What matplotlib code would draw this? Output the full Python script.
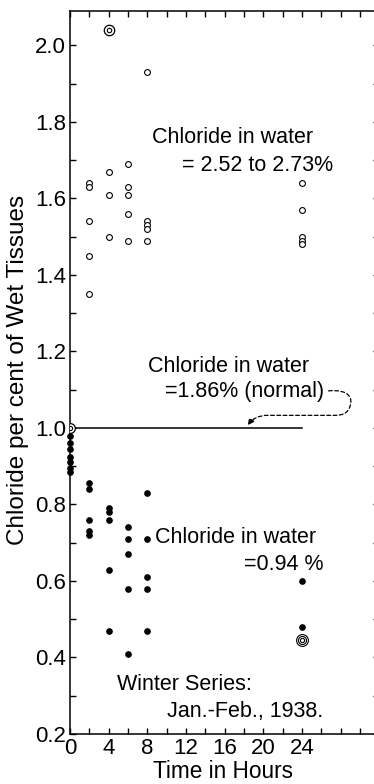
import matplotlib
matplotlib.use("Agg")
import matplotlib.pyplot as plt
from matplotlib.path import Path
from matplotlib.patches import FancyArrowPatch
from matplotlib.ticker import MultipleLocator, FixedLocator, FormatStrFormatter

# Water at 2.52-2.73 % chloride (open circles)
high_hours = [2, 2, 2, 2, 2,
              4, 4, 4,
              6, 6, 6, 6, 6,
              8, 8, 8, 8, 8,
              24, 24, 24, 24, 24]
high_chloride = [1.64, 1.63, 1.54, 1.45, 1.35,
                 1.67, 1.61, 1.50,
                 1.69, 1.63, 1.61, 1.56, 1.49,
                 1.93, 1.54, 1.53, 1.52, 1.49,
                 1.64, 1.57, 1.50, 1.49, 1.48]
high_double_hours = [4]
high_double_chloride = [2.04]

# Water at 0.94 % chloride (filled dots)
low_hours = [0, 0, 0, 0, 0, 0, 0,
             2, 2, 2, 2, 2,
             4, 4, 4, 4, 4,
             6, 6, 6, 6, 6,
             8, 8, 8, 8, 8,
             24, 24]
low_chloride = [0.98, 0.96, 0.945, 0.925, 0.91, 0.895, 0.885,
                0.855, 0.84, 0.76, 0.73, 0.72,
                0.79, 0.78, 0.76, 0.63, 0.47,
                0.74, 0.71, 0.67, 0.58, 0.41,
                0.83, 0.71, 0.61, 0.58, 0.47,
                0.60, 0.48]
low_triple_hours = [24]
low_triple_chloride = [0.445]

# Normal sea water (1.86 %)
normal_hours = [0, 24]
normal_chloride = [1.00, 1.00]

x_ticks = [0, 4, 8, 12, 16, 20, 24]
x_tick_labels = ["0", "4", "8", "12", "16", "20", "24"]

W, H = 374, 784
fig = plt.figure(figsize=(W / 100, H / 100), dpi=100)
ax = fig.add_axes([70 / W, 50 / H, 309.3 / W, 723 / H])
ax.set_xlim(0, 32)
ax.set_ylim(0.2, 2.09)

font = ["Liberation Sans", "DejaVu Sans"]

for s in ax.spines.values():
    s.set_linewidth(1.1)

ax.xaxis.set_major_locator(FixedLocator(x_ticks))
ax.set_xticklabels(x_tick_labels)
ax.xaxis.set_minor_locator(MultipleLocator(2))
ax.yaxis.set_major_locator(MultipleLocator(0.2))
ax.yaxis.set_minor_locator(MultipleLocator(0.1))
ax.yaxis.set_major_formatter(FormatStrFormatter("%.1f"))
ax.tick_params(which="both", direction="in", top=True, right=True,
               length=4.5, width=1.0, color="black")
ax.tick_params(which="major", labelsize=16, pad=3)
for lab in ax.get_xticklabels() + ax.get_yticklabels():
    lab.set_fontfamily(font)

# normal-water reference line
ax.plot(normal_hours, normal_chloride, color="black", lw=1.1, zorder=2)
ax.plot(normal_hours[:1], normal_chloride[:1], "o", ms=7, mfc="white",
        mec="black", mew=0.9, zorder=4)
ax.plot(normal_hours[:1], normal_chloride[:1], "o", ms=3, mfc="white",
        mec="black", mew=0.8, zorder=5)

# high-salinity series
ax.plot(high_hours, high_chloride, "o", ms=4.2, mfc="white", mec="black",
        mew=0.8, zorder=3, clip_on=False)
ax.plot(high_double_hours, high_double_chloride, "o", ms=7.5, mfc="white",
        mec="black", mew=0.9, zorder=3)
ax.plot(high_double_hours, high_double_chloride, "o", ms=3.2, mfc="white",
        mec="black", mew=0.8, zorder=4)

# low-salinity series
ax.plot(low_hours, low_chloride, "o", ms=3.8, color="black", zorder=3,
        clip_on=False)
for ms in (8.5, 5.8, 3.0):
    ax.plot(low_triple_hours, low_triple_chloride, "o", ms=ms, mfc="white",
            mec="black", mew=0.8, zorder=3)

fs = 15.5
ax.text(8.48, 1.744, "Chloride in water", fontsize=fs, family=font)
ax.text(27.2, 1.673, "= 2.52 to 2.73%", fontsize=fs, family=font,
        ha="right")
ax.text(8.07, 1.1457, "Chloride in water", fontsize=fs, family=font)
ax.text(9.83, 1.0804, "=1.86% (normal)", fontsize=fs, family=font)
ax.text(8.8, 0.699, "Chloride in water", fontsize=fs, family=font)
ax.text(26.2, 0.628, "=0.94 %", fontsize=fs, family=font, ha="right")
ax.text(4.86, 0.315, "Winter Series:", fontsize=fs, family=font)
ax.text(10.0, 0.244, "Jan.-Feb., 1938.", fontsize=fs, family=font)

# dashed pointer from the "(normal)" label down to the line
verts = [(26.75, 1.097), (28.96, 1.102), (29.27, 1.076), (28.96, 1.056),
         (28.76, 1.041), (28.34, 1.033), (27.41, 1.033),
         (20.48, 1.033),
         (19.45, 1.033), (18.83, 1.023), (18.41, 1.007)]
codes = [Path.MOVETO, Path.CURVE4, Path.CURVE4, Path.CURVE4,
         Path.CURVE4, Path.CURVE4, Path.CURVE4,
         Path.LINETO,
         Path.CURVE4, Path.CURVE4, Path.CURVE4]
arrow = FancyArrowPatch(path=Path(verts, codes), arrowstyle="-|>",
                        mutation_scale=9, lw=0.9, linestyle=(0, (3, 2)),
                        color="black", zorder=4)
ax.add_patch(arrow)

fig.text(18 / W, 1 - 370 / H, "Chloride per cent of Wet Tissues",
         rotation=90, ha="center", va="center", fontsize=17.5, family=font)
fig.text(223 / W, 1 - 772 / H, "Time in Hours", ha="center", va="center",
         fontsize=16.3, family=font)

fig.savefig("out.png", dpi=100)
